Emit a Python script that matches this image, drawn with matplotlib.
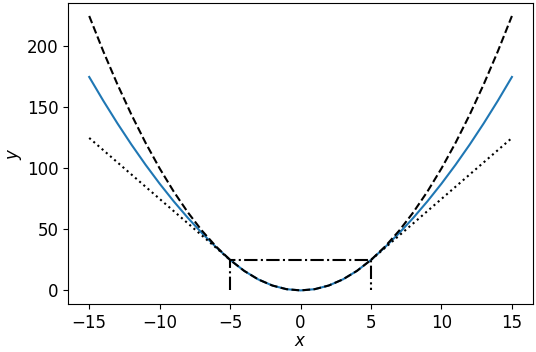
import matplotlib
matplotlib.use("Agg")
import matplotlib.pyplot as plt

# sample x positions
x = [-15, -14, -13, -12, -11, -10, -9, -8, -7, -6, -5, -4, -3, -2, -1, 0,
     1, 2, 3, 4, 5, 6, 7, 8, 9, 10, 11, 12, 13, 14, 15]
# dashed (quadratic) curve
y_dashed = [225, 196, 169, 144, 121, 100, 81, 64, 49, 36, 25, 16, 9, 4, 1, 0,
            1, 4, 9, 16, 25, 36, 49, 64, 81, 100, 121, 144, 169, 196, 225]
# blue curve
y_blue = [175, 155.5, 137, 119.5, 103, 87.5, 73, 59.5, 47, 35.5, 25, 16, 9, 4, 1, 0,
          1, 4, 9, 16, 25, 35.5, 47, 59.5, 73, 87.5, 103, 119.5, 137, 155.5, 175]
# dotted (linear tails)
x_dot_left = [-15, -5]
y_dot_left = [125, 25]
x_dot_right = [5, 15]
y_dot_right = [25, 125]
# dash-dot box
x_box = [-5, -5, 5, 5]
y_box = [0, 25, 25, 0]

plt.rcParams['font.size'] = 12
fig = plt.figure(figsize=(5.36, 3.52), dpi=100)
ax = fig.add_axes([0.127, 0.136, 0.8675, 0.855])
ax.plot(x, y_blue, color='#1f77b4', lw=1.5)
ax.plot(x, y_dashed, 'k--', lw=1.5)
ax.plot(x_dot_left, y_dot_left, 'k:', lw=1.5)
ax.plot(x_dot_right, y_dot_right, 'k:', lw=1.5)
ax.plot(x_box, y_box, 'k-.', lw=1.5)
ax.set_xlim(-16.5, 16.5)
ax.set_ylim(-11.25, 235.5)
ax.set_xticks([-15, -10, -5, 0, 5, 10, 15])
ax.set_yticks([0, 50, 100, 150, 200])
ax.set_xlabel('$x$', labelpad=0)
ax.set_ylabel('$y$', labelpad=2)
fig.savefig('out.png', dpi=100)
